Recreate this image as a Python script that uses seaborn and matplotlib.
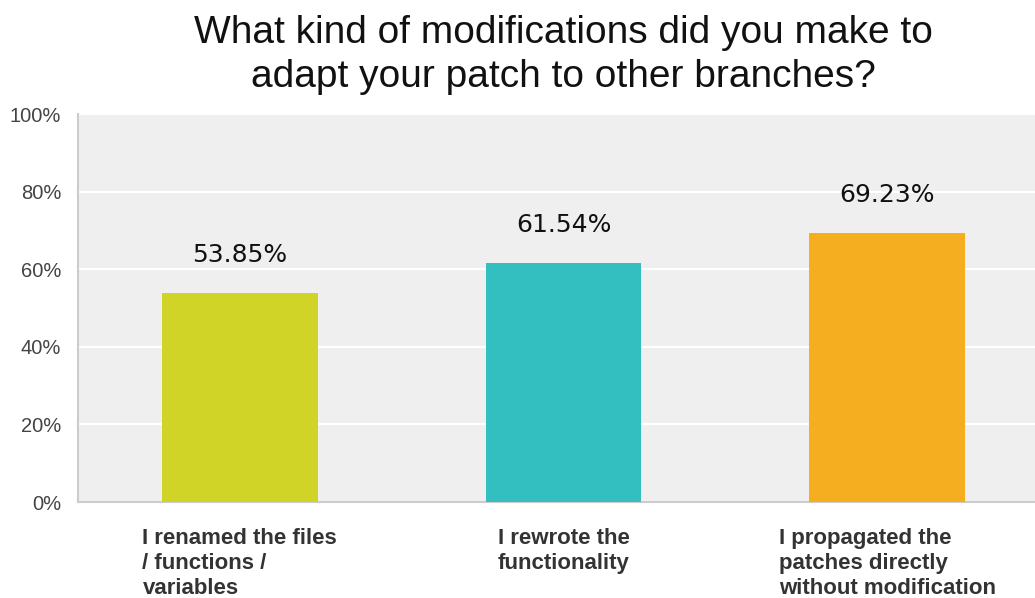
import matplotlib
matplotlib.use("Agg")
import matplotlib.pyplot as plt
import seaborn as sns
import pandas as pd

# Survey answers and share of respondents (%)
categories = [
    "I renamed the files\n/ functions /\nvariables",
    "I rewrote the\nfunctionality",
    "I propagated the\npatches directly\nwithout modification",
]
values = [53.85, 61.54, 69.23]
bar_colors = ["#CFD427", "#33BFBF", "#F5AE1F"]
y_ticks = [0, 20, 40, 60, 80, 100]
y_tick_labels = ["0%", "20%", "40%", "60%", "80%", "100%"]
title = "What kind of modifications did you make to\nadapt your patch to other branches?"

df = pd.DataFrame({"answer": categories, "share": values})

sns.set_theme(style="white")
plt.rcParams["font.family"] = ["Liberation Sans", "DejaVu Sans"]

fig = plt.figure(figsize=(10.35, 5.98), dpi=100)
ax = fig.add_axes([78 / 1035, 1 - 502 / 598, (1049 - 78) / 1035, (502 - 114) / 598])
ax.set_facecolor("#EFEFEF")

sns.barplot(data=df, x="answer", y="share", hue="answer", palette=bar_colors,
            width=0.48, legend=False, ax=ax, saturation=1, linewidth=0, zorder=3)

ax.set_ylim(0, 100)
ax.set_xlim(-0.5, 2.5)
ax.set_yticks(y_ticks)
ax.set_yticklabels(y_tick_labels, color="#444444", fontsize=14.5)
ax.yaxis.grid(True, color="white", linewidth=1.6, zorder=1)
ax.set_axisbelow(True)
ax.tick_params(axis="y", length=0, pad=12)
ax.tick_params(axis="x", length=0, pad=19)
ax.set_xlabel("")
ax.set_ylabel("")

for lbl in ax.get_xticklabels():
    lbl.set_fontweight("bold")
    lbl.set_fontsize(16)
    lbl.set_color("#333333")
    lbl.set_ha("center")
    lbl.set_va("top")
    lbl.set_multialignment("left")
    lbl.set_linespacing(1.25)

for s in ["top", "right"]:
    ax.spines[s].set_visible(False)
ax.spines["left"].set_color("#CCCCCC")
ax.spines["left"].set_linewidth(1.5)
ax.spines["bottom"].set_color("#CCCCCC")
ax.spines["bottom"].set_linewidth(1.5)

for i, v in enumerate(values):
    ax.annotate(f"{v:.2f}%", xy=(i, v), xytext=(0, 19), textcoords="offset points",
                ha="center", va="bottom", fontsize=18, color="#111111",
                family="DejaVu Sans")

fig.text((78 + 1049) / 2 / 1035, 1 - 15 / 598, title, ha="center", va="top",
         fontsize=28, color="#111111", linespacing=1.27)

fig.savefig("out.png", dpi=100)
